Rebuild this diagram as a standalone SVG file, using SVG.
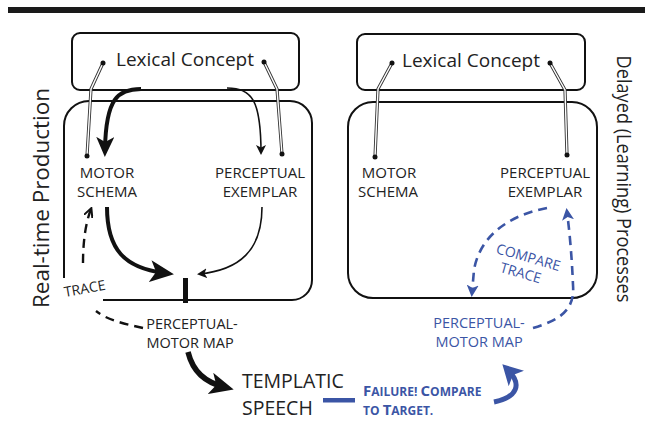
<svg xmlns="http://www.w3.org/2000/svg" width="645" height="430" viewBox="0 0 645 430">
<defs>
<style>
.t{font-family:"Open Sans","Liberation Sans",sans-serif;fill:#222}
.b{font-family:"Open Sans","Liberation Sans",sans-serif;fill:#3b55a5}
.box{fill:none;stroke:#111;stroke-width:2}
.wire1{fill:none;stroke:#333;stroke-width:3.2}
.wire2{fill:none;stroke:#fff;stroke-width:1.4}
.dot{fill:#111}
.dash{fill:none;stroke:#3b55a5;stroke-width:2.6;stroke-dasharray:9 6}
</style>
<marker id="bigK" markerUnits="userSpaceOnUse" viewBox="0 0 20 18" refX="12" refY="9" markerWidth="20" markerHeight="18" orient="auto"><path d="M0,0 L20,9 L0,18 L5,9 z" fill="#111"/></marker>
<marker id="hugeK" markerUnits="userSpaceOnUse" viewBox="0 0 24 22" refX="14" refY="11" markerWidth="24" markerHeight="22" orient="auto"><path d="M0,0 L24,11 L0,22 L6,11 z" fill="#111"/></marker>
<marker id="smK" markerUnits="userSpaceOnUse" viewBox="0 0 10 10" refX="8" refY="5" markerWidth="10" markerHeight="10" orient="auto"><path d="M0,0 L10,5 L0,10 L2.5,5 z" fill="#111"/></marker>
<marker id="chev" markerUnits="userSpaceOnUse" viewBox="0 0 10 10" refX="8" refY="5" markerWidth="10" markerHeight="10" orient="auto"><path d="M0,0.5 L9,5 L0,9.5" fill="none" stroke="#111" stroke-width="2"/></marker>
<marker id="smB" markerUnits="userSpaceOnUse" viewBox="0 0 12 12" refX="8" refY="6" markerWidth="12" markerHeight="12" orient="auto"><path d="M0,0 L12,6 L0,12 L3,6 z" fill="#3b55a5"/></marker>
<marker id="bigB" markerUnits="userSpaceOnUse" viewBox="0 0 20 22" refX="12" refY="11" markerWidth="20" markerHeight="22" orient="auto"><path d="M0,0 L20,11 L0,22 L5,11 z" fill="#3b55a5"/></marker>
</defs>
<rect x="8" y="7" width="637" height="6" fill="#1a1a1a"/>

<text class="t" x="42" y="198" font-size="21" text-anchor="middle" transform="rotate(-90 42 198)" dy="7" textLength="220" lengthAdjust="spacingAndGlyphs">Real-time Production</text>
<text class="t" x="624" y="179" font-size="20" text-anchor="middle" transform="rotate(90 624 179)" dy="7" textLength="247" lengthAdjust="spacingAndGlyphs">Delayed (Learning) Processes</text>

<g id="lex-left">
<rect class="box" x="72" y="33" width="227" height="57" rx="8"/>
<text class="t" x="185" y="66" font-size="19" text-anchor="middle">Lexical Concept</text>
</g>
<g id="lex-right">
<rect class="box" x="357" y="34" width="228" height="56" rx="8"/>
<text class="t" x="471" y="67" font-size="19" text-anchor="middle">Lexical Concept</text>
</g>

<g id="panel-left">
<path class="box" d="M64,278 L64,126 A25,25 0 0 1 89,101 L290,101 A22,22 0 0 1 312,123 L312,280 A20,20 0 0 1 292,300 L103,300"/>
</g>
<g id="panel-right">
<rect class="box" x="348" y="102" width="249" height="196" rx="25"/>
</g>

<g id="motor-left">
<text class="t" font-size="15" text-anchor="middle"><tspan x="107" y="178">MOTOR</tspan><tspan x="107" y="197">SCHEMA</tspan></text>
</g>
<g id="percept-left">
<text class="t" font-size="15" text-anchor="middle"><tspan x="260" y="178">PERCEPTUAL</tspan><tspan x="260" y="197">EXEMPLAR</tspan></text>
</g>
<g id="motor-right">
<text class="t" font-size="15" text-anchor="middle"><tspan x="389" y="178">MOTOR</tspan><tspan x="388" y="197">SCHEMA</tspan></text>
</g>
<g id="percept-right">
<text class="t" font-size="15" text-anchor="middle"><tspan x="545" y="178">PERCEPTUAL</tspan><tspan x="545" y="197">EXEMPLAR</tspan></text>
</g>
<g id="pmm-left">
<text class="t" font-size="14.5" text-anchor="middle"><tspan x="192" y="329">PERCEPTUAL-</tspan><tspan x="190" y="348">MOTOR MAP</tspan></text>
</g>
<g id="pmm-right">
<text class="b" font-size="14.5" text-anchor="middle"><tspan x="479" y="328">PERCEPTUAL-</tspan><tspan x="479" y="347">MOTOR MAP</tspan></text>
</g>
<g id="speech">
<text class="t" font-size="19.5" text-anchor="start"><tspan x="242" y="388">TEMPLATIC</tspan><tspan x="242" y="415">SPEECH</tspan></text>
</g>
<g id="failure">
<text class="b" font-weight="bold" font-size="15"><tspan x="363" y="396">F</tspan><tspan font-size="12">AILURE! </tspan><tspan font-size="15">C</tspan><tspan font-size="12">OMPARE</tspan><tspan x="363" y="415" font-size="12">TO </tspan><tspan font-size="15">T</tspan><tspan font-size="12">ARGET.</tspan></text>
</g>
<g id="trace-label">
<text class="t" font-size="14" transform="rotate(-10 65 297)" x="65" y="297">TRACE</text>
</g>
<g id="compare-trace-label">
<text class="b" font-size="14" text-anchor="middle" transform="rotate(16 527 262)"><tspan x="527" y="262">COMPARE</tspan><tspan x="524" y="279">TRACE</tspan></text>
</g>

<g id="connectors">
<path class="wire1" d="M103,63 L91,89 L87,156"/>
<path class="wire2" d="M103,63 L91,89 L87,156"/>
<path class="wire1" d="M264,62 L277,89 L282,154"/>
<path class="wire2" d="M264,62 L277,89 L282,154"/>
<path class="wire1" d="M392,63 L378,89 L375,157"/>
<path class="wire2" d="M392,63 L378,89 L375,157"/>
<path class="wire1" d="M550,63 L565,90 L567,155"/>
<path class="wire2" d="M550,63 L565,90 L567,155"/>
<circle class="dot" cx="103" cy="63" r="2.5"/>
<circle class="dot" cx="87" cy="156" r="2.5"/>
<circle class="dot" cx="264" cy="62" r="2.5"/>
<circle class="dot" cx="282" cy="154" r="2.5"/>
<circle class="dot" cx="392" cy="63" r="2.5"/>
<circle class="dot" cx="375" cy="157" r="2.5"/>
<circle class="dot" cx="550" cy="63" r="2.5"/>
<circle class="dot" cx="567" cy="155" r="2.5"/>

<path d="M141,89 C118,89 106,98 105,149" fill="none" stroke="#111" stroke-width="4" marker-end="url(#bigK)"/>
<path d="M227,88 C252,88 261,100 261,153" fill="none" stroke="#111" stroke-width="1.6" marker-end="url(#smK)"/>
<path d="M107,207 C107,250 125,268 164,273" fill="none" stroke="#111" stroke-width="4" marker-end="url(#hugeK)"/>
<path d="M262,207 C262,250 240,270 199,274" fill="none" stroke="#111" stroke-width="1.6" marker-end="url(#smK)"/>
<rect x="183" y="278" width="5" height="25" fill="#111"/>
<path d="M188,352 C193,372 205,382 224,387" fill="none" stroke="#111" stroke-width="5.5" marker-end="url(#hugeK)"/>

<path d="M83,263 C83,240 86,222 91,209" fill="none" stroke="#111" stroke-width="2.4" stroke-dasharray="9 6" marker-end="url(#chev)"/>
<path d="M143,328 C125,324 107,320 96,311" fill="none" stroke="#111" stroke-width="2.4" stroke-dasharray="9 6"/>

<path class="dash" d="M533,328 C560,320 575,310 573,285 C572,260 570,235 567,212" marker-end="url(#smB)"/>
<path class="dash" d="M547,208 C510,215 480,235 474,270 L472,293" marker-end="url(#smB)"/>
<rect x="323" y="398" width="32" height="4.5" fill="#3b55a5"/>
<path d="M494,402 C518,397 522,384 508,370" fill="none" stroke="#3b55a5" stroke-width="5" marker-end="url(#bigB)"/>
</g>
</svg>
